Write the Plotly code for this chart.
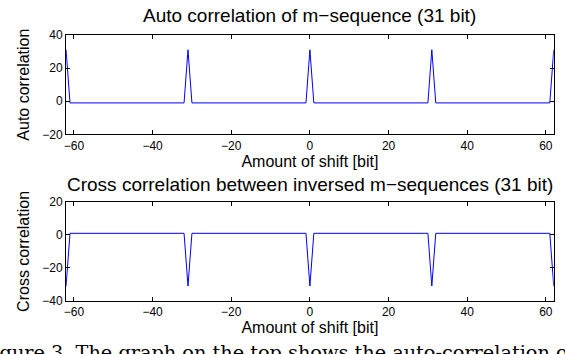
import plotly.graph_objects as go

# Line vertices (shift in bits -> correlation value)
shift = [-62, -61, -32, -31, -30, -1, 0, 1, 30, 31, 32, 61, 62]
auto_corr = [31, -1, -1, 31, -1, -1, 31, -1, -1, 31, -1, -1, 31]
cross_corr = [-31, 1, 1, -31, 1, 1, -31, 1, 1, -31, 1, 1, -31]

x_ticks = [-60, -40, -20, 0, 20, 40, 60]
auto_ticks = [-20, 0, 20, 40]
cross_ticks = [-40, -20, 0, 20]

W, H = 565, 354
FONT = "Liberation Sans, Arial, Helvetica, sans-serif"

fig = go.Figure()
fig.add_trace(go.Scatter(x=shift, y=auto_corr, mode="lines",
                         line=dict(color="#0000ff", width=1),
                         xaxis="x", yaxis="y", showlegend=False))
fig.add_trace(go.Scatter(x=shift, y=cross_corr, mode="lines",
                         line=dict(color="#0000ff", width=1),
                         xaxis="x2", yaxis="y2", showlegend=False))

xdom = [64.3 / W, 553.7 / W]
axis_common = dict(showline=True, linecolor="black", linewidth=1, mirror="ticks",
                   ticks="inside", ticklen=4, tickcolor="black", tickwidth=1,
                   showgrid=False, zeroline=False,
                   tickfont=dict(family=FONT, size=12, color="black"))

fig.update_layout(
    width=W, height=H,
    margin=dict(l=0, r=0, t=0, b=0),
    paper_bgcolor="white", plot_bgcolor="white",
    font=dict(family=FONT, color="black"),
    xaxis=dict(domain=xdom, range=[-62, 62], tickvals=x_ticks, anchor="y",
               title=dict(text="Amount of shift [bit]", font=dict(size=16), standoff=2),
               **axis_common),
    yaxis=dict(domain=[1 - 132.7 / H, 1 - 29 / H], range=[-20, 40], tickvals=auto_ticks,
               anchor="x",
               title=dict(text="Auto correlation", font=dict(size=16), standoff=8),
               **axis_common),
    xaxis2=dict(domain=xdom, range=[-62, 62], tickvals=x_ticks, anchor="y2",
                title=dict(text="Amount of shift [bit]", font=dict(size=16), standoff=2),
                **axis_common),
    yaxis2=dict(domain=[1 - 306 / H, 1 - 203 / H], range=[-40, 20], tickvals=cross_ticks,
                anchor="x2",
                title=dict(text="Cross correlation", font=dict(size=16), standoff=8),
                **axis_common),
)

cx = (64.3 + 553.7) / 2 / W
fig.add_annotation(text="Auto correlation of m\u2212sequence (31 bit)",
                   x=cx, y=1 - 9 / H, xref="paper", yref="paper",
                   xanchor="center", yanchor="middle", showarrow=False,
                   font=dict(family=FONT, size=19, color="black"))
fig.add_annotation(text="Cross correlation between inversed m\u2212sequences (31 bit)",
                   x=cx, y=1 - 184.5 / H, xref="paper", yref="paper",
                   xanchor="center", yanchor="middle", showarrow=False,
                   font=dict(family=FONT, size=19, color="black"))
fig.add_annotation(text="Figure 3. The graph on the top shows the auto-correlation of",
                   x=579 / W, y=1 - 346 / H, xref="paper", yref="paper",
                   xanchor="right", yanchor="top", showarrow=False,
                   font=dict(family="DejaVu Serif, serif", size=19.3, color="black"))

fig.write_html("out.html")
